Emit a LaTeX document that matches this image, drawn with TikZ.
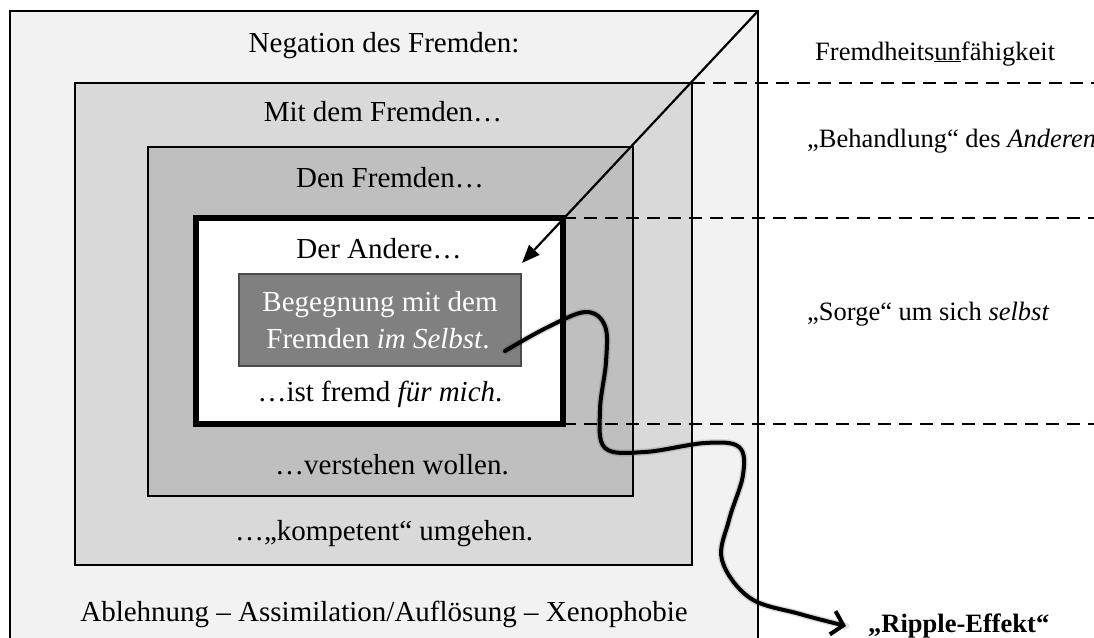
\documentclass[tikz,border=0pt]{standalone}
\usepackage{fontspec}
\setmainfont{Liberation Serif}
\usetikzlibrary{arrows.meta}
\definecolor{cOuter}{HTML}{F2F2F2}
\definecolor{cBoxB}{HTML}{D9D9D9}
\definecolor{cBoxC}{HTML}{BFBFBF}
\definecolor{cCore}{HTML}{808080}
\newcommand\mainsz{\fontsize{29}{34}\selectfont}
\newcommand\sidesz{\fontsize{26.5}{31}\selectfont}
\begin{document}
\begin{tikzpicture}[x=1pt,y=-1pt,
  frame/.style={draw=black, line width=1.7pt},
  maintext/.style={anchor=base, font=\mainsz, inner sep=0pt},
  sidetext/.style={anchor=base west, font=\sidesz, inner sep=0pt},
  guide/.style={draw=black, line width=2.3pt, dash pattern=on 13pt off 8pt},
  ripple/.style={line width=4pt, line cap=round, line join=round},
  ]
\useasboundingbox (0,0) rectangle (1094,637);
\clip (0,0) rectangle (1094,637);
\fill[white] (0,0) rectangle (1094,637);
% box corners
\coordinate (oTL) at (10,11);   \coordinate (oBR) at (758,660);
\coordinate (bTL) at (75,83);   \coordinate (bBR) at (692,565);
\coordinate (cTL) at (148,147); \coordinate (cBR) at (633,496);
\coordinate (dTL) at (196,218); \coordinate (dBR) at (563,424);
\coordinate (eTL) at (239,274); \coordinate (eBR) at (521,366);
\coordinate (oTR) at (oBR |- oTL);
\coordinate (bTR) at (bBR |- bTL);
\coordinate (dTR) at (dBR |- dTL);
\coordinate (edgeR) at (1094,0);
% boxes
\draw[frame, fill=cOuter] (oTL) rectangle (oBR);
\draw[frame, fill=cBoxB] (bTL) rectangle (bBR);
\draw[frame, fill=cBoxC] (cTL) rectangle (cBR);
\draw[draw=black, line width=6pt, fill=white] (dTL) rectangle (dBR);
\draw[draw=black!70, line width=1.3pt, fill=cCore] (eTL) rectangle (eBR);
% main texts
\node[maintext] (neg) at (384,52) {Negation des Fremden:};
\node[maintext] (mit) at (383,121) {Mit dem Fremden…};
\node[maintext] (den) at (390,187) {Den Fremden…};
\node[maintext] (and) at (379,258) {Der Andere…};
\node[maintext, text=white] (beg1) at (380,311) {Begegnung mit dem};
\node[maintext, text=white] (beg2) at (378,348) {Fremden \textit{im Selbst}.};
\node[maintext] (ist) at (380,401) {…ist fremd \textit{für mich}.};
\node[maintext] (ver) at (392,474) {…verstehen wollen.};
\node[maintext] (kom) at (384,540) {…„kompetent“ umgehen.};
\node[maintext] (abl) at (384,621) {Ablehnung – Assimilation/Auflösung – Xenophobie};
% side texts
\node[sidetext] (fu) at (815,60) {Fremdheits\underline{un}fähigkeit};
\node[sidetext] (beh) at (807,147) {„Behandlung“ des \textit{Anderen}};
\node[sidetext] (sor) at (807,320) {„Sorge“ um sich \textit{selbst}};
\node[sidetext, font=\sidesz\bfseries] (rip) at (868,632) {„Ripple-Effekt“};
% dashed guides
\draw[guide] (bTR) -- (bTR -| edgeR);
\draw[guide] (dTR) -- (dTR -| edgeR);
\draw[guide] (dBR) -- (dBR -| edgeR);
% straight arrow
\coordinate (atip) at (522,263);
\draw[line width=2.2pt, -{Triangle[length=18pt,width=14pt]}] (oTR) -- (atip);
% ripple curve
\coordinate (r0) at (505,351);
\coordinate (r1) at (548,327);
\coordinate (r2) at (586,312);
\coordinate (r3) at (605,326);
\coordinate (r4) at (606,362);
\coordinate (r5) at (600,410);
\coordinate (r6) at (605,448);
\coordinate (r7) at (645,452);
\coordinate (r8) at (705,443);
\coordinate (r9) at (739,447);
\coordinate (r10) at (743,475);
\coordinate (r11) at (729,520);
\coordinate (r12) at (722,560);
\coordinate (r13) at (750,598);
\coordinate (r14) at (800,614);
\coordinate (r15) at ([xshift=-22pt,yshift=6pt]rip.base west);
\begin{scope}[shift={(3,4)}]
\draw[ripple, line width=7pt, black, opacity=0.12] plot[smooth, tension=0.6] coordinates {(r0) (r1) (r2) (r3) (r4) (r5) (r6) (r7) (r8) (r9) (r10) (r11) (r12) (r13) (r14) (r15)};
\end{scope}
\draw[ripple, -{Straight Barb[length=11pt,width=24pt]}] plot[smooth, tension=0.6] coordinates {(r0) (r1) (r2) (r3) (r4) (r5) (r6) (r7) (r8) (r9) (r10) (r11) (r12) (r13) (r14) (r15)};
\end{tikzpicture}
\end{document}
